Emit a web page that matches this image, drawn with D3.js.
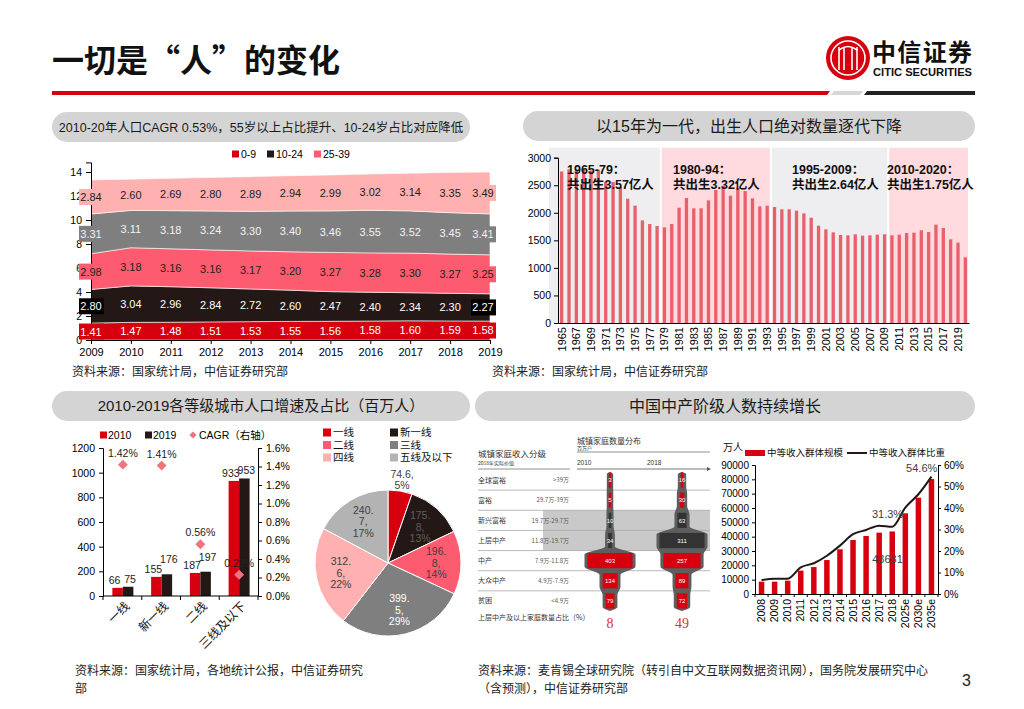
<!DOCTYPE html>
<html>
<head>
<meta charset="utf-8">
<script src="https://cdn.jsdelivr.net/npm/d3@7"></script>
<style>
  body { margin: 0; background: #fff; }
  svg text { font-family: "Liberation Sans", Arial, "Noto Sans CJK SC", sans-serif; }
  svg .cn { font-family: "Noto Sans CJK SC", sans-serif; }
  svg .narrow { font-family: "Liberation Sans Narrow", "Liberation Sans", Arial, "Noto Sans CJK SC", sans-serif; }
</style>
</head>
<body>
<svg id="slide" width="1024" height="709"></svg>
<script>
////////////////////////////////////////////////////////////
///////////////////////// Data /////////////////////////////
////////////////////////////////////////////////////////////

// age structure, 亿人
var ageYears = [2009, 2010, 2011, 2012, 2013, 2014, 2015, 2016, 2017, 2018, 2019];
var ageKeys = ['0-9', '10-24', '25-39', '40-54', '55+'];
var age0_9   = [1.41, 1.47, 1.48, 1.51, 1.53, 1.55, 1.56, 1.58, 1.60, 1.59, 1.58];
var age10_24 = [2.80, 3.04, 2.96, 2.84, 2.72, 2.60, 2.47, 2.40, 2.34, 2.30, 2.27];
var age25_39 = [2.98, 3.18, 3.16, 3.16, 3.17, 3.20, 3.27, 3.28, 3.30, 3.27, 3.25];
var age40_54 = [3.31, 3.11, 3.18, 3.24, 3.30, 3.40, 3.46, 3.55, 3.52, 3.45, 3.41];
var age55    = [2.84, 2.60, 2.69, 2.80, 2.89, 2.94, 2.99, 3.02, 3.14, 3.35, 3.49];
var ageTicks = [0, 2, 4, 6, 8, 10, 12, 14];

// births, 万人, 1965-2020
var birthYears = d3.range(1965, 2021);
var births = [2750, 2790, 2780, 2790, 2770, 2780, 2560, 2560, 2470, 2256,
              2130, 1863, 1797, 1760, 1736, 1797, 2093, 2268, 2081, 2081,
              2226, 2414, 2492, 2311, 2456, 2395, 2262, 2117, 2129, 2105,
              2063, 2063, 2039, 1990, 1911, 1766, 1700, 1645, 1597, 1591,
              1609, 1585, 1591, 1603, 1609, 1591, 1603, 1633, 1639, 1682,
              1652, 1785, 1724, 1518, 1458, 1192];
var birthTicks = [0, 500, 1000, 1500, 2000, 2500, 3000];
var genFrom  = [1965, 1979, 1994, 2010];
var genTo    = [1978, 1993, 2009, 2020];
var genTitle = ['1965-79：', '1980-94：', '1995-2009：', '2010-2020：'];
var genTotal = ['共出生3.57亿人', '共出生3.32亿人', '共出生2.64亿人', '共出生1.75亿人'];

// city tiers, 百万人
var cityNames = ['一线', '新一线', '二线', '三线及以下'];
var city2010 = [66, 155, 187, 933];
var city2019 = [75, 176, 197, 953];
var cityCagr = [0.0142, 0.0141, 0.0056, 0.0023];
var cityTicksL = [0, 200, 400, 600, 800, 1000, 1200];
var cityTicksR = [0, 0.002, 0.004, 0.006, 0.008, 0.010, 0.012, 0.014, 0.016];

// share by tier (pie)
var pieNames = ['一线', '新一线', '二线', '三线', '四线', '五线及以下'];
var pieValues = [74.6, 175.8, 196.8, 399.5, 312.6, 240.7];

// household classes (embedded graphic)
var classNames  = ['全球富裕', '富裕', '新兴富裕', '上层中产', '中产', '大众中产', '贫困'];
var classRanges = ['>39万', '29.7万-39万', '19.7万-29.7万', '11.8万-19.7万', '7.9万-11.8万', '4.9万-7.9万', '<4.9万'];
var class2010 = [3, 5, 10, 34, 403, 134, 79];
var class2018 = [16, 30, 63, 311, 257, 89, 72];
var classYears = ['2010', '2018'];
var classShare = [8, 49];

// middle income group
var midYears = ['2008', '2009', '2010', '2011', '2012', '2013', '2014', '2015', '2016', '2017', '2018', '2025e', '2030e', '2035e'];
var midSize  = [8600, 8600, 9300, 16300, 18800, 23700, 31200, 37700, 40500, 42800, 43631, 56300, 67200, 80200];
var midShare = [0.065, 0.071, 0.071, 0.124, 0.143, 0.178, 0.225, 0.278, 0.298, 0.318, 0.313, 0.402, 0.464, 0.546];
var midTicksL = [0, 10000, 20000, 30000, 40000, 50000, 60000, 70000, 80000, 90000];
var midTicksR = [0, 0.1, 0.2, 0.3, 0.4, 0.5, 0.6];

////////////////////////////////////////////////////////////
//////////////////////// Styles ////////////////////////////
////////////////////////////////////////////////////////////

var red = '#d7000f', dark = '#231815', rose = '#fd5c70',
    midGray = '#7f7f7f', blush = '#ffb0b0', silver = '#b3b3b3', diamond = '#f0737f';
var ageColors = [red, dark, rose, midGray, blush];
var ageText = ['#fff', '#fff', '#222', '#f2f2f2', '#222'];

var svg = d3.select('#slide');

function styleAxis(g, size) {
  g.selectAll('path, line').attr('stroke', '#000').attr('stroke-width', 1);
  g.selectAll('text').attr('fill', '#000').style('font-size', size + 'px');
  return g;
}

function pill(x, y, w, h, label, size) {
  svg.append('rect').attr('x', x).attr('y', y).attr('width', w).attr('height', h)
    .attr('rx', 15).attr('fill', '#d4d4d4');
  svg.append('text').attr('x', x + w / 2).attr('y', y + h / 2).attr('dy', '0.36em')
    .attr('text-anchor', 'middle').attr('fill', '#1a1a1a')
    .style('font-size', size + 'px').text(label);
}

function addDiamond(g, x, y, side) {
  g.append('rect').attr('x', -side / 2).attr('y', -side / 2).attr('width', side).attr('height', side)
    .attr('fill', diamond).attr('transform', 'translate(' + x + ',' + y + ') rotate(45)');
}

////////////////////////////////////////////////////////////
//////////////////////// Header ////////////////////////////
////////////////////////////////////////////////////////////

svg.append('text').attr('class', 'cn').attr('x', 52).attr('y', 72)
  .style('font-size', '32px').style('font-weight', 700).attr('fill', '#111')
  .text('一切是“人”的变化');

var logo = svg.append('g').attr('transform', 'translate(848,58)');
logo.append('circle').attr('r', 22).attr('fill', red);
logo.append('circle').attr('r', 17).attr('fill', 'none').attr('stroke', '#fff').attr('stroke-width', 1.6);
[-9, -4, 4, 9].forEach(function(dx) {
  logo.append('line').attr('x1', dx).attr('x2', dx).attr('y1', -11).attr('y2', 12)
    .attr('stroke', '#fff').attr('stroke-width', 1.6);
});
logo.append('path').attr('d', 'M-9,-8 Q0,-15 9,-8').attr('fill', 'none').attr('stroke', '#fff').attr('stroke-width', 1.6);
svg.append('text').attr('class', 'cn').attr('x', 872).attr('y', 61)
  .style('font-size', '24px').style('font-weight', 700).attr('fill', '#111')
  .attr('textLength', 100).text('中信证券');
svg.append('text').attr('class', 'narrow').attr('x', 873).attr('y', 76)
  .style('font-size', '10px').style('font-weight', 700).attr('fill', '#111')
  .attr('textLength', 99).attr('lengthAdjust', 'spacingAndGlyphs').text('CITIC SECURITIES');

svg.append('polygon').attr('points', '52,91 830,91 827,95 52,95').attr('fill', red);
svg.append('polygon').attr('points', '834,91 863,91 860,95 831,95').attr('fill', '#d6d6d6');
svg.append('polygon').attr('points', '867,91 975,91 975,95 864,95').attr('fill', '#222');

pill(52, 112, 418, 30, '2010-20年人口CAGR 0.53%，55岁以上占比提升、10-24岁占比对应降低', 12.5);
pill(523, 111, 452, 30, '以15年为一代，出生人口绝对数量逐代下降', 16);
pill(52, 391, 418, 30, '2010-2019各等级城市人口增速及占比（百万人）', 15);
pill(475, 391, 500, 30, '中国中产阶级人数持续增长', 16);

////////////////////////////////////////////////////////////
/////////////// Panel 1: stacked age bands /////////////////
////////////////////////////////////////////////////////////

var ageSeries = [age0_9, age10_24, age25_39, age40_54, age55];
var ageRows = ageYears.map(function(y, i) {
  var row = { year: y };
  ageKeys.forEach(function(k, j) { row[k] = ageSeries[j][i]; });
  return row;
});
var ageStack = d3.stack().keys(ageKeys)(ageRows);

var xA = d3.scalePoint().domain(ageYears).range([91, 490]);
var yA = d3.scaleLinear().domain([0, 14.8]).range([340, 162.4]);

var ageArea = d3.area()
  .x(function(d) { return xA(d.data.year); })
  .y0(function(d) { return yA(d[0]); })
  .y1(function(d) { return yA(d[1]); });

var g1 = svg.append('g');
g1.selectAll('path.band').data(ageStack).enter().append('path')
  .attr('class', 'band')
  .attr('d', ageArea)
  .attr('fill', function(d, i) { return ageColors[i]; })
  .attr('stroke', '#fff').attr('stroke-width', 0.6);

styleAxis(g1.append('g').attr('transform', 'translate(91,0)')
  .call(d3.axisLeft(yA).tickValues(ageTicks).tickSize(5).tickPadding(4)), 10.5);
styleAxis(g1.append('g').attr('transform', 'translate(0,340)')
  .call(d3.axisBottom(xA).tickSize(4).tickPadding(4).tickSizeOuter(0)), 11);

ageStack.forEach(function(s, k) {
  s.forEach(function(d, i) {
    var cx = xA(d.data.year) - (i === s.length - 1 ? 7 : 0),
        cy = yA((d[0] + d[1]) / 2);
    if (i === 0 || i === s.length - 1) {
      g1.append('rect').attr('x', cx - 12).attr('y', cy - 8).attr('width', 25).attr('height', 16)
        .attr('fill', k === 1 ? '#000' : ageColors[k]);
    }
    g1.append('text').attr('x', cx).attr('y', cy).attr('dy', '0.36em')
      .attr('text-anchor', 'middle').attr('fill', ageText[k])
      .style('font-size', '11px').text(d3.format('.2f')(d.data[s.key]));
  });
});

var leg1 = g1.selectAll('g.leg').data(ageKeys.slice(0, 3)).enter().append('g')
  .attr('transform', function(d, i) { return 'translate(' + [232, 267, 314][i] + ',154)'; });
leg1.append('rect').attr('x', 0).attr('y', -3.5).attr('width', 7).attr('height', 7)
  .attr('fill', function(d, i) { return ageColors[i]; });
leg1.append('text').attr('x', 9).attr('dy', '0.36em').style('font-size', '10.5px').text(function(d) { return d; });

svg.append('text').attr('x', 72).attr('y', 376).style('font-size', '12px').attr('fill', '#222')
  .text('资料来源：国家统计局，中信证券研究部');

////////////////////////////////////////////////////////////
////////////////// Panel 2: births bars ////////////////////
////////////////////////////////////////////////////////////

var xB = d3.scaleBand().domain(birthYears).range([558, 969]).paddingInner(0.55).paddingOuter(0.275);
var yB = d3.scaleLinear().domain([0, 3000]).range([323, 157.7]);
var g2 = svg.append('g');

genFrom.forEach(function(from, i) {
  var left = xB(from) + xB.bandwidth() / 2 - xB.step() / 2 + 1,
      right = xB(genTo[i]) + xB.bandwidth() / 2 + xB.step() / 2 - 1;
  if (i === 0) left -= 10;
  g2.append('rect').attr('x', left).attr('y', yB(3000) - 10)
    .attr('width', right - left).attr('height', yB(0) - yB(3000) + 10)
    .attr('fill', i % 2 === 0 ? '#eeeef0' : '#ffdadf');
});

g2.selectAll('rect.bar').data(births).enter().append('rect')
  .attr('class', 'bar')
  .attr('x', function(d, i) { return xB(birthYears[i]); })
  .attr('y', function(d) { return yB(d); })
  .attr('width', xB.bandwidth())
  .attr('height', function(d) { return yB(0) - yB(d); })
  .attr('fill', '#e8606c');

styleAxis(g2.append('g').attr('transform', 'translate(558,0)')
  .call(d3.axisLeft(yB).tickValues(birthTicks).tickSize(4).tickPadding(3).tickFormat(d3.format('d'))), 10.5);
var ax2 = styleAxis(g2.append('g').attr('transform', 'translate(0,323)')
  .call(d3.axisBottom(xB).tickValues(birthYears.filter(function(d, i) { return i % 2 === 0; }))
    .tickSize(0).tickSizeOuter(0)), 11);
ax2.selectAll('text').attr('transform', 'rotate(-90)').attr('x', -4).attr('y', 0)
  .attr('dy', '0.35em').style('text-anchor', 'end');

var genX = [567, 673, 792, 887];
genTitle.forEach(function(t, i) {
  g2.append('text').attr('x', genX[i]).attr('y', 174).style('font-size', '12.5px')
    .style('font-weight', 700).attr('fill', '#111').text(t);
  g2.append('text').attr('x', genX[i]).attr('y', 189).style('font-size', '12.5px')
    .style('font-weight', 700).attr('fill', '#111').text(genTotal[i]);
});

svg.append('text').attr('x', 492).attr('y', 376).style('font-size', '12px').attr('fill', '#222')
  .text('资料来源：国家统计局，中信证券研究部');

////////////////////////////////////////////////////////////
//////////////// Panel 3: city tier bars ///////////////////
////////////////////////////////////////////////////////////

var x0 = d3.scaleBand().domain(cityNames).range([103, 258]);
var yL3 = d3.scaleLinear().domain([0, 1200]).range([596, 448]);
var yR3 = d3.scaleLinear().domain([0, 0.016]).range([596, 448]);
var g3 = svg.append('g');
var barW = 10.5;

[city2010, city2019].forEach(function(series, s) {
  series.forEach(function(v, i) {
    var cx = x0(cityNames[i]) + x0.bandwidth() / 2 + 0.5,
        bx = s === 0 ? cx - barW : cx,
        lift = (s === 1 && (i === 1 || i === 2)) ? 7 : 0;
    g3.append('rect').attr('x', bx).attr('y', yL3(v)).attr('width', barW)
      .attr('height', yL3(0) - yL3(v)).attr('fill', s === 0 ? red : dark);
    g3.append('text').attr('x', bx + barW / 2 + (s === 0 ? -3 : 2)).attr('y', yL3(v) - 4 - lift)
      .attr('text-anchor', 'middle').style('font-size', '10.5px').attr('fill', '#222').text(v);
  });
});

cityCagr.forEach(function(v, i) {
  var cx = x0(cityNames[i]) + x0.bandwidth() / 2 + 0.5;
  addDiamond(g3, cx, yR3(v), 7);
  g3.append('text').attr('x', cx).attr('y', yR3(v) - 8).attr('text-anchor', 'middle')
    .style('font-size', '10.5px').attr('fill', '#222').text(d3.format('.2%')(v));
});

styleAxis(g3.append('g').attr('transform', 'translate(103,0)')
  .call(d3.axisLeft(yL3).tickValues(cityTicksL).tickSize(4).tickPadding(4).tickFormat(d3.format('d'))), 10.5);
styleAxis(g3.append('g').attr('transform', 'translate(258,0)')
  .call(d3.axisRight(yR3).tickValues(cityTicksR).tickSize(4).tickPadding(4).tickFormat(d3.format('.1%'))), 10.5);
g3.append('line').attr('x1', 103).attr('x2', 258).attr('y1', 596).attr('y2', 596).attr('stroke', '#000');
cityNames.concat([null]).forEach(function(c) {
  var bx = c === null ? x0.range()[1] : x0(c);
  g3.append('line').attr('x1', bx).attr('x2', bx).attr('y1', 596).attr('y2', 600).attr('stroke', '#000');
  if (c !== null) {
    g3.append('text').attr('class', 'cn')
      .attr('transform', 'translate(' + (bx + x0.bandwidth() / 2 + 5) + ',604) rotate(-45)')
      .attr('text-anchor', 'end').attr('dy', '0.35em').style('font-size', '12px').attr('fill', '#111').text(c);
  }
});

var leg3 = g3.append('g').attr('transform', 'translate(0,435)');
leg3.append('rect').attr('x', 100).attr('y', -3.5).attr('width', 7).attr('height', 7).attr('fill', red);
leg3.append('text').attr('x', 108).attr('dy', '0.36em').style('font-size', '10.5px').text('2010');
leg3.append('rect').attr('x', 145).attr('y', -3.5).attr('width', 7).attr('height', 7).attr('fill', dark);
leg3.append('text').attr('x', 153).attr('dy', '0.36em').style('font-size', '10.5px').text('2019');
addDiamond(leg3, 193, 0, 5);
leg3.append('text').attr('x', 199).attr('dy', '0.36em').style('font-size', '10.5px').text('CAGR（右轴）');

////////////////////////////////////////////////////////////
//////////////////////// Pie ///////////////////////////////
////////////////////////////////////////////////////////////

var pieColors = [red, dark, rose, midGray, blush, silver];
var pieText = ['#404040', '#5f5f5f', '#404040', '#fff', '#404040', '#404040'];
var pieR = 73;
var pieTotal = d3.sum(pieValues);
var arcs = d3.pie().sort(null)(pieValues);
var arcGen = d3.arc().innerRadius(0).outerRadius(pieR);
var labelArc = d3.arc().innerRadius(pieR * 0.66).outerRadius(pieR * 0.66);
var outArc = d3.arc().innerRadius(pieR * 1.16).outerRadius(pieR * 1.16);

var g4 = svg.append('g').attr('transform', 'translate(388,563)');
g4.selectAll('path').data(arcs).enter().append('path')
  .attr('d', arcGen)
  .attr('fill', function(d, i) { return pieColors[i]; })
  .attr('stroke', '#fff').attr('stroke-width', 1);

arcs.forEach(function(d, i) {
  var pct = d3.format('.0%')(d.value / pieTotal),
      parts = String(d.value).split('.'),
      lines = i === 0 ? [d.value + ',', pct] : [parts[0] + '.', parts[1] + ',', pct],
      c = (i === 0 ? outArc : labelArc).centroid(d),
      t = g4.append('text').attr('text-anchor', 'middle').style('font-size', '10.5px')
        .attr('fill', pieText[i]);
  lines.forEach(function(l, j) {
    t.append('tspan').attr('x', c[0]).attr('y', c[1] + (j - (lines.length - 1) / 2) * 11.5)
      .attr('dy', '0.36em').text(l);
  });
});

var leg4 = svg.selectAll('g.pleg').data(pieNames).enter().append('g')
  .attr('transform', function(d, i) {
    return 'translate(' + (i % 2 === 0 ? 323 : 390) + ',' + [432.5, 445, 457.5][Math.floor(i / 2)] + ')';
  });
leg4.append('rect').attr('y', -4).attr('width', 8).attr('height', 8)
  .attr('fill', function(d, i) { return pieColors[i]; });
leg4.append('text').attr('x', 10).attr('dy', '0.36em')
  .style('font-size', '10.5px').attr('fill', '#111').text(function(d) { return d; });

svg.append('text').attr('x', 75).attr('y', 675).style('font-size', '12px').attr('fill', '#222')
  .text('资料来源：国家统计局，各地统计公报，中信证券研究');
svg.append('text').attr('x', 75).attr('y', 693).style('font-size', '12px').attr('fill', '#222').text('部');

////////////////////////////////////////////////////////////
/////////////// Household class graphic ////////////////////
////////////////////////////////////////////////////////////

var yRow = d3.scaleBand().domain(classNames).range([470, 611]);
var xYear = d3.scalePoint().domain(classYears).range([610, 682]);
var g5 = svg.append('g');
var rowH = yRow.bandwidth();

g5.append('rect').attr('x', 543).attr('y', yRow(classNames[2]))
  .attr('width', 167).attr('height', rowH * 2).attr('fill', '#c9c9c9');
classNames.slice(0, -1).forEach(function(c) {
  g5.append('line').attr('x1', 478).attr('x2', 710)
    .attr('y1', yRow(c) + rowH).attr('y2', yRow(c) + rowH)
    .attr('stroke', '#aaa').attr('stroke-width', 0.8);
});
classNames.forEach(function(c, i) {
  g5.append('text').attr('class', 'cn').attr('x', 478).attr('y', yRow(c) + rowH / 2).attr('dy', '0.36em')
    .style('font-size', '7px').attr('fill', '#333').text(c);
  g5.append('text').attr('class', 'cn').attr('x', 569).attr('y', yRow(c) + rowH / 2).attr('dy', '0.36em')
    .attr('text-anchor', 'end').style('font-size', '6px').attr('fill', '#555').text(classRanges[i]);
});

g5.append('text').attr('class', 'cn').attr('x', 478).attr('y', 457).style('font-size', '8.5px').attr('fill', '#333').text('城镇家庭收入分级');
g5.append('text').attr('class', 'cn').attr('x', 478).attr('y', 465).style('font-size', '5px').attr('fill', '#333').text('2018年实际价值');
g5.append('line').attr('x1', 478).attr('x2', 570).attr('y1', 469).attr('y2', 469).attr('stroke', '#777').attr('stroke-width', 0.8);
g5.append('text').attr('class', 'cn').attr('x', 577).attr('y', 444).style('font-size', '8px').attr('fill', '#333').text('城镇家庭数量分布');
g5.append('text').attr('class', 'cn').attr('x', 577).attr('y', 450).style('font-size', '5px').attr('fill', '#333').text('百万户');
g5.append('line').attr('x1', 577).attr('x2', 710).attr('y1', 452).attr('y2', 452).attr('stroke', '#777').attr('stroke-width', 0.8);
g5.append('text').attr('x', 577).attr('y', 465).style('font-size', '6.5px').attr('fill', '#333').text('2010');
g5.append('text').attr('x', 647).attr('y', 465).style('font-size', '6.5px').attr('fill', '#333').text('2018');
g5.append('line').attr('x1', 577).attr('x2', 707).attr('y1', 469).attr('y2', 469).attr('stroke', '#555').attr('stroke-width', 0.8);
g5.append('path').attr('d', 'M707,467 L711,469 L707,471 Z').attr('fill', '#555');

var violin = d3.area().curve(d3.curveMonotoneY)
  .y(function(d) { return d.y; })
  .x0(function(d) { return d.cx - d.h; })
  .x1(function(d) { return d.cx + d.h; });

[class2010, class2018].forEach(function(vals, s) {
  var cx = xYear(classYears[s]),
      wScale = d3.scaleLinear().domain([0, d3.max(vals)]).range([0, 45]),
      pts = [{ y: yRow(classNames[0]) + 2, h: 0, cx: cx }];
  vals.forEach(function(v, i) {
    var top = yRow(classNames[i]);
    pts.push({ y: top + 4, h: wScale(v) / 2 + 3, cx: cx });
    pts.push({ y: top + rowH - 4, h: wScale(v) / 2 + 3, cx: cx });
  });
  pts.push({ y: yRow(classNames[vals.length - 1]) + rowH, h: 0, cx: cx });
  g5.append('path').attr('d', violin(pts)).attr('fill', '#5e5e5e');

  vals.forEach(function(v, i) {
    var w = Math.max(wScale(v), 2.5), top = yRow(classNames[i]);
    g5.append('rect').attr('x', cx - w / 2).attr('y', top + 2.5).attr('width', w).attr('height', rowH - 5)
      .attr('fill', i === 2 || i === 3 ? '#333' : red);
    g5.append('text').attr('x', cx).attr('y', top + rowH / 2).attr('dy', '0.36em').attr('text-anchor', 'middle')
      .style('font-size', '6px').attr('fill', '#fff').text(v);
  });

  g5.append('text').attr('x', cx).attr('y', 628).attr('text-anchor', 'middle')
    .style('font-family', '"Liberation Serif", "DejaVu Serif", serif').style('font-size', '14px')
    .attr('fill', '#e0303c').text(classShare[s]);
});
g5.append('text').attr('class', 'cn').attr('x', 478).attr('y', 620).style('font-size', '7px').attr('fill', '#333')
  .text('上层中产及以上家庭数量占比（%）');

////////////////////////////////////////////////////////////
////////////// Panel 6: middle income group ////////////////
////////////////////////////////////////////////////////////

var x6 = d3.scaleBand().domain(midYears).range([755, 938]).paddingInner(0.58).paddingOuter(0.29);
var yL6 = d3.scaleLinear().domain([0, 90000]).range([594, 465]);
var yR6 = d3.scaleLinear().domain([0, 0.6]).range([594, 465]);
var g6 = svg.append('g');

g6.selectAll('rect.mid').data(midSize).enter().append('rect')
  .attr('class', 'mid')
  .attr('x', function(d, i) { return x6(midYears[i]); })
  .attr('y', function(d) { return yL6(d); })
  .attr('width', x6.bandwidth())
  .attr('height', function(d) { return yL6(0) - yL6(d); })
  .attr('fill', red);

var shareLine = d3.line().curve(d3.curveMonotoneX)
  .x(function(d, i) { return x6(midYears[i]) + x6.bandwidth() / 2; })
  .y(function(d) { return yR6(d); });
g6.append('path').attr('d', shareLine(midShare)).attr('fill', 'none')
  .attr('stroke', dark).attr('stroke-width', 2);

var a6l = styleAxis(g6.append('g').attr('transform', 'translate(755,0)')
  .call(d3.axisLeft(yL6).tickValues(midTicksL).tickSize(3).tickPadding(3).tickFormat(d3.format('d'))), 10);
var a6r = styleAxis(g6.append('g').attr('transform', 'translate(938,0)')
  .call(d3.axisRight(yR6).tickValues(midTicksR).tickSize(3).tickPadding(3).tickFormat(d3.format('.0%'))), 10);
var a6b = styleAxis(g6.append('g').attr('transform', 'translate(0,594)')
  .call(d3.axisBottom(x6).tickSize(0).tickSizeOuter(0)), 10.5);
a6b.selectAll('text').attr('transform', 'rotate(-90)').attr('x', -5).attr('y', 0)
  .attr('dy', '0.35em').style('text-anchor', 'end');
[a6l, a6r, a6b].forEach(function(a) { a.selectAll('text').attr('class', 'narrow'); });
midYears.concat([null]).forEach(function(c) {
  var bx = c === null ? 938 : x6(c) - x6.step() * x6.paddingInner() / 2;
  g6.append('line').attr('x1', bx).attr('x2', bx).attr('y1', 594).attr('y2', 597).attr('stroke', '#000');
});

var i18 = midYears.indexOf('2018'), iLast = midYears.length - 1;
g6.append('text').attr('class', 'narrow').attr('x', x6('2018') - 2).attr('y', yR6(midShare[i18]) - 9)
  .attr('text-anchor', 'middle').style('font-size', '11px').attr('fill', '#404040')
  .text(d3.format('.1%')(midShare[i18]));
g6.append('text').attr('class', 'narrow').attr('x', x6(midYears[iLast]) - 7).attr('y', yR6(midShare[iLast]) - 5)
  .attr('text-anchor', 'middle').style('font-size', '11px').attr('fill', '#404040')
  .text(d3.format('.1%')(midShare[iLast]));
g6.append('text').attr('class', 'narrow').attr('x', x6('2018') - 2).attr('y', 563)
  .attr('text-anchor', 'middle').style('font-size', '11px').attr('fill', '#404040').text(midSize[i18]);

g6.append('text').attr('class', 'cn').attr('x', 723).attr('y', 451).style('font-size', '10px').attr('fill', '#111').text('万人');
g6.append('rect').attr('x', 745).attr('y', 450).attr('width', 20).attr('height', 6).attr('fill', red);
g6.append('text').attr('class', 'cn').attr('x', 767).attr('y', 453).attr('dy', '0.36em')
  .style('font-size', '9.5px').attr('fill', '#111').text('中等收入群体规模');
g6.append('line').attr('x1', 847).attr('x2', 867).attr('y1', 453).attr('y2', 453).attr('stroke', dark).attr('stroke-width', 2);
g6.append('text').attr('class', 'cn').attr('x', 869).attr('y', 453).attr('dy', '0.36em')
  .style('font-size', '9.5px').attr('fill', '#111').text('中等收入群体比重');

svg.append('text').attr('x', 478).attr('y', 675).style('font-size', '12px').attr('fill', '#222')
  .text('资料来源：麦肯锡全球研究院（转引自中文互联网数据资讯网），国务院发展研究中心');
svg.append('text').attr('x', 478).attr('y', 693).style('font-size', '12px').attr('fill', '#222')
  .text('（含预测），中信证券研究部');
svg.append('text').attr('x', 962).attr('y', 686).style('font-size', '16px').attr('fill', '#222').text('3');
</script>
</body>
</html>
